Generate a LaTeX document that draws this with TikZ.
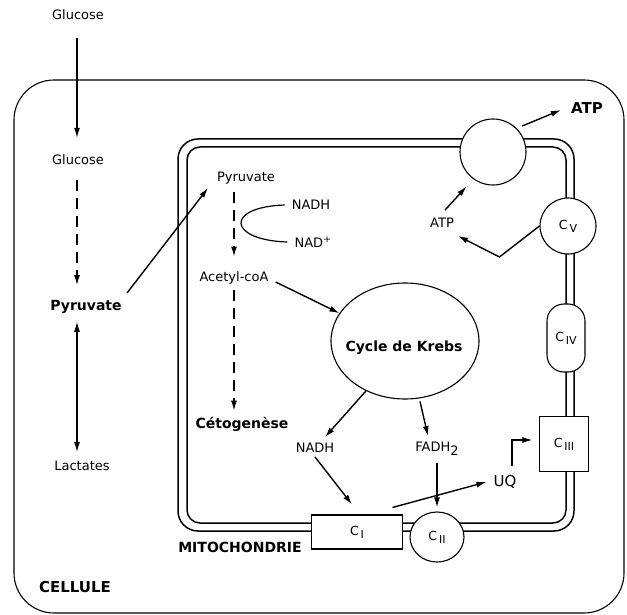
\documentclass[tikz,border=0pt]{standalone}
\usepackage{fontspec}
\setmainfont{DejaVu Sans}
\usetikzlibrary{arrows.meta,shapes.geometric,calc}
\newcommand\cxs[1]{\raisebox{-3pt}{\fontsize{11}{12}\selectfont\,#1}}
\begin{document}
\begin{tikzpicture}[x=1pt,y=-1pt,
  lab/.style={font=\fontsize{13}{15}\selectfont, inner sep=0pt},
  blab/.style={font=\fontsize{14}{16}\selectfont\bfseries, inner sep=0pt},
  cx/.style={draw, fill=white, line width=1.1pt, inner sep=0pt, font=\fontsize{12.5}{14}\selectfont},
  arr/.style={-{Latex[length=10pt,width=6pt]}, line width=1.4pt},
  darr/.style={{Latex[length=10pt,width=6pt]}-{Latex[length=10pt,width=6pt]}, line width=1.1pt},
  dsh/.style={arr, dash pattern=on 11pt off 7pt},
  memb/.style={line width=1.5pt}]
\useasboundingbox (0,0) rectangle (627,615);
\fill[white] (0,0) rectangle (627,615);
% cell
\draw[line width=1.1pt, rounded corners=40pt] (14,80) rectangle (624,613);
% mitochondrial membranes
\draw[memb, rounded corners=20pt] (178,139) rectangle (574,531);
\draw[memb, rounded corners=13pt] (187,147) rectangle (566,523);
% text nodes
\node[lab] (glc0) at (78,15) {Glucose};
\node[lab] (glc1) at (78,160) {Glucose};
\node[blab] (pyr) at (86,307) {Pyruvate};
\node[lab] (lac) at (82,466) {Lactates};
\node[lab] (pyrm) at (246,178) {Pyruvate};
\node[lab] (nadh1) at (311,205) {NADH};
\node[lab] (nadp) at (313,242) {NAD\textsuperscript{+}};
\node[lab] (acoa) at (234,278) {Acetyl-coA};
\node[blab] (ceto) at (242,424) {Cétogenèse};
\node[ellipse, draw, line width=1.1pt, minimum width=148pt, minimum height=116pt] (krebs) at (405,341) {};
\node[blab] (krebsl) at (404,348) {Cycle de Krebs};
\node[lab] (nadh2) at (315,448) {NADH};
\node[lab] (fadh) at (437,449) {FADH\raisebox{-4pt}{\fontsize{13}{15}\selectfont 2}};
\node[font=\fontsize{15}{17}\selectfont, inner sep=0pt] (uq) at (505,482) {UQ};
\node[blab, font=\fontsize{15}{17}\selectfont\bfseries] (atp1) at (587,108) {ATP};
\node[lab] (atp2) at (442,223) {ATP};
\node[blab] (mito) at (240,547) {MITOCHONDRIE};
\node[blab, font=\fontsize{15}{17}\selectfont\bfseries] (cell) at (75,587) {CELLULE};
% complexes
\node[cx, circle, minimum size=66pt] (syn) at (493,152) {};
\node[cx, circle, minimum size=56pt] (cv) at (568,226) {C\cxs{V}};
\node[cx, rectangle, rounded corners=17pt, minimum width=38pt, minimum height=68pt] (civ) at (566,338) {C\cxs{IV}};
\node[cx, rectangle, minimum width=49pt, minimum height=55pt] (ciii) at (564,444) {C\cxs{III}};
\node[cx, ellipse, minimum width=54pt, minimum height=50pt] (cii) at (437,537) {C\cxs{II}};
\node[cx, rectangle, minimum width=91pt, minimum height=34pt] (ci) at (357,532) {C\cxs{I}};
% arrows
\draw[arr, line width=1.1pt, shorten <=18pt, shorten >=17pt] ([xshift=-1pt]glc0.south) -- ([xshift=-1pt]glc1.north);
\draw[dsh, shorten <=15pt, shorten >=15pt] ([xshift=-1pt]glc1.south) -- ([xshift=-1pt]glc1.south |- pyr.north);
\draw[darr, shorten <=8pt, shorten >=9pt] ([xshift=-1pt]glc1.south |- pyr.south) -- ([xshift=-1pt]glc1.south |- lac.north);
\draw[arr] ([shift={(41,-14)}]pyr.center) -- ([shift={(-38,10)}]pyrm.center);
\draw[dsh, shorten <=8pt, shorten >=15pt] (pyrm.south -| acoa.center) -- (acoa.north);
\draw[line width=1.2pt] (nadh1.west) ++(-7,0) .. controls +(-60,2) and +(-60,-2) .. ([shift={(-7,-5)}]nadp.base west);
\draw[arr] ([shift={(7,4)}]acoa.east) -- (krebs.157);
\draw[dsh, shorten <=6pt, shorten >=6pt] (acoa.south) -- (acoa.south |- ceto.north);
\draw[arr] (krebs.232) -- ([shift={(10,-6)}]nadh2.north);
\draw[arr, shorten <=3pt] (krebs.284) -- ([shift={(-9,-6)}]fadh.north);
\draw[arr] ([shift={(0,4)}]nadh2.south) -- ([shift={(-5,-10)}]ci.north);
\draw[arr] ([shift={(0,7)}]fadh.south -| cii.north) -- ([shift={(0,-4)}]cii.north);
\draw[arr] ([shift={(-10.5,-7)}]ci.north east) -- ([shift={(-7,0)}]uq.west);
\draw[arr] ([shift={(7,-9)}]uq.north) |- ([shift={(-6.5,-4)}]ciii.west);
\draw[arr, shorten <=6pt] (syn.45) -- ([shift={(-10,2)}]atp1.west);
\draw[arr, shorten >=10pt] ([shift={(3,-8)}]atp2.north) -- (syn.234);
\draw[arr] (cv.west) -- ++(-40,31) -- ([shift={(4,8)}]atp2.south east);
\end{tikzpicture}
\end{document}
